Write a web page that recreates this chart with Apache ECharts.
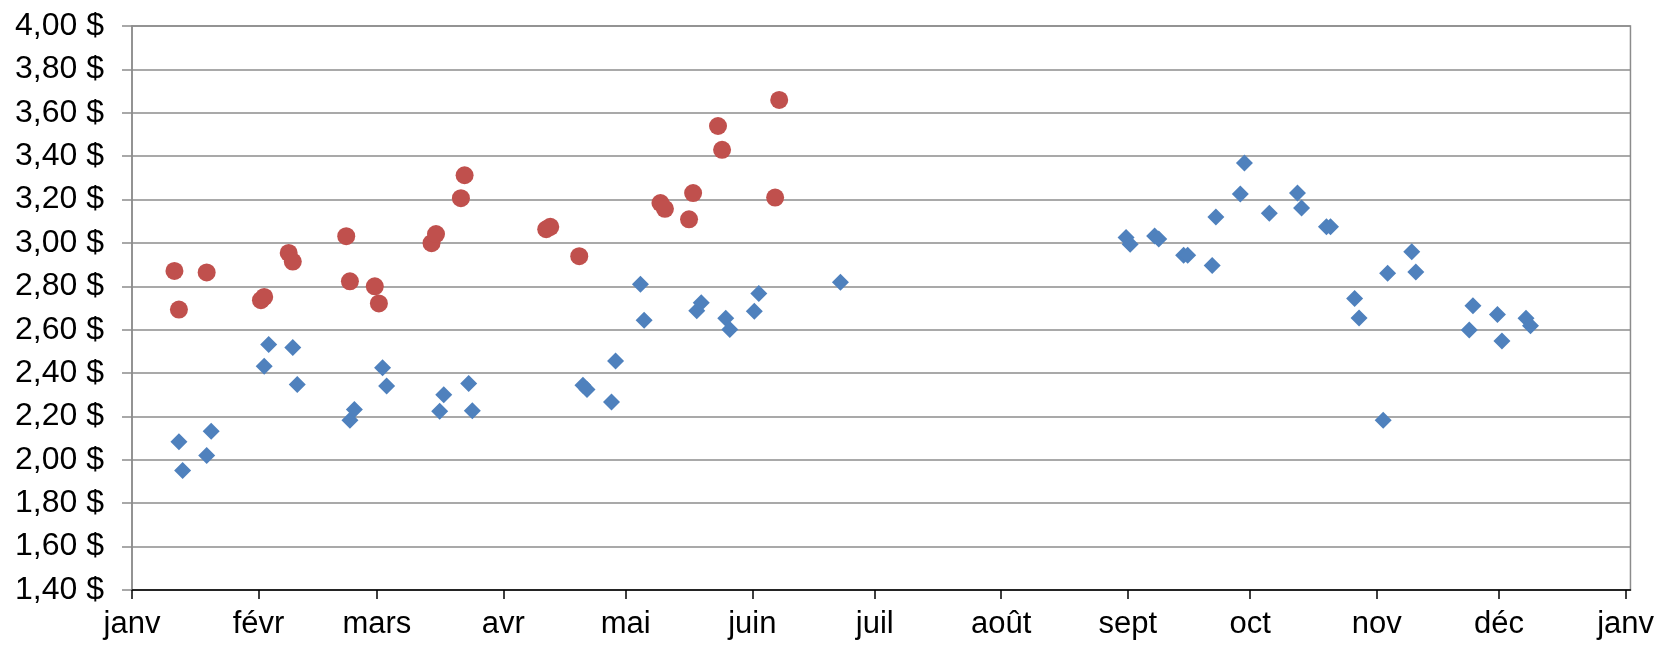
<!DOCTYPE html>
<html>
<head>
<meta charset="utf-8">
<script src="https://cdn.jsdelivr.net/npm/echarts@6/dist/echarts.min.js"></script>
<style>
html,body{margin:0;padding:0;background:#fff;}
#chart{width:1657px;height:645px;}
</style>
</head>
<body>
<div id="chart"></div>
<script>
// Month tick positions (days since 1 Jan, leap year) and labels
const monthStarts = [0, 31, 60, 91, 121, 152, 182, 213, 244, 274, 305, 335, 366];
const monthLabels = ['janv', 'févr', 'mars', 'avr', 'mai', 'juin', 'juil', 'août', 'sept', 'oct', 'nov', 'déc', 'janv'];

// Red series (circles): day of year, price
const redDays = [10.4, 11.5, 18.3, 31.6, 32.4, 38.4, 39.4, 52.5, 53.4, 59.5, 60.5, 73.4, 74.5, 80.6, 81.5,
  101.5, 102.5, 109.6, 129.5, 130.6, 136.5, 137.5, 143.6, 144.6, 157.6, 158.6];
const redPrices = [2.871, 2.693, 2.864, 2.736, 2.751, 2.954, 2.914, 3.031, 2.823, 2.800, 2.721, 2.999, 3.041, 3.206, 3.312,
  3.063, 3.074, 2.939, 3.184, 3.157, 3.109, 3.230, 3.539, 3.429, 3.209, 3.659];

// Blue series (diamonds): day of year, price
const blueDays = [11.5, 12.4, 18.3, 19.4, 32.4, 33.5, 39.4, 40.5, 53.4, 54.5, 61.4, 62.4, 75.4, 76.4, 82.5, 83.4,
  110.5, 111.5, 117.5, 118.5, 124.6, 125.5, 138.4, 139.5, 145.5, 146.5, 152.5, 153.6, 173.6,
  243.6, 244.6, 250.6, 251.6, 257.7, 258.7, 264.7, 265.6, 271.6, 272.6, 278.7, 285.6, 286.6, 292.7, 293.7,
  299.6, 300.7, 306.6, 307.7, 313.6, 314.6, 327.7, 328.6, 334.6, 335.7, 341.6, 342.7];
const bluePrices = [2.083, 1.951, 2.020, 2.132, 2.432, 2.532, 2.518, 2.347, 2.182, 2.232, 2.424, 2.340, 2.224, 2.300, 2.352, 2.226,
  2.344, 2.324, 2.267, 2.456, 2.810, 2.644, 2.687, 2.724, 2.653, 2.601, 2.685, 2.767, 2.819,
  3.025, 2.994, 3.032, 3.018, 2.943, 2.943, 2.896, 3.120, 3.226, 3.369, 3.137, 3.230, 3.161, 3.074, 3.074,
  2.744, 2.654, 2.182, 2.860, 2.959, 2.866, 2.599, 2.710, 2.670, 2.548, 2.653, 2.618];

const zip = (a, b) => a.map((v, i) => [v, b[i]]);

const chart = echarts.init(document.getElementById('chart'), null, {renderer: 'canvas'});
chart.setOption({
  animation: false,
  backgroundColor: '#ffffff',
  grid: {left: 132, right: 22, top: 26, bottom: 55, show: true, borderColor: '#8c8c8c', borderWidth: 1.5, containLabel: false},
  xAxis: {
    type: 'value',
    min: 0,
    max: 367.2,
    axisLine: {show: true, onZero: false, lineStyle: {color: '#000', width: 1.5}},
    axisTick: {show: true, inside: false, length: 9, lineStyle: {color: '#000', width: 1.5}, customValues: monthStarts},
    axisLabel: {
      customValues: monthStarts,
      margin: 19,
      color: '#000',
      fontFamily: 'Liberation Sans, Arial, sans-serif',
      fontSize: 31,
      formatter: function (v) {
        const i = monthStarts.indexOf(Math.round(v));
        return i >= 0 ? monthLabels[i] : '';
      }
    },
    splitLine: {show: false}
  },
  yAxis: {
    type: 'value',
    min: 1.4,
    max: 4.0,
    interval: 0.2,
    axisLine: {show: true, lineStyle: {color: '#8c8c8c', width: 1.5}},
    axisTick: {show: true, inside: false, length: 10, lineStyle: {color: '#8c8c8c', width: 1.5}},
    axisLabel: {
      margin: 28,
      color: '#000',
      fontFamily: 'Liberation Sans, Arial, sans-serif',
      fontSize: 32,
      formatter: function (v) { return v.toFixed(2).replace('.', ',') + ' $'; }
    },
    splitLine: {show: true, lineStyle: {color: '#8c8c8c', width: 1.5}}
  },
  series: [
    {
      name: 'rouge',
      type: 'scatter',
      symbol: 'circle',
      symbolSize: 18,
      itemStyle: {color: '#C0504D', opacity: 1},
      data: zip(redDays, redPrices)
    },
    {
      name: 'bleu',
      type: 'scatter',
      symbol: 'diamond',
      symbolSize: [17, 17],
      itemStyle: {color: '#4F81BD', opacity: 1},
      data: zip(blueDays, bluePrices)
    }
  ]
});
</script>
</body>
</html>
